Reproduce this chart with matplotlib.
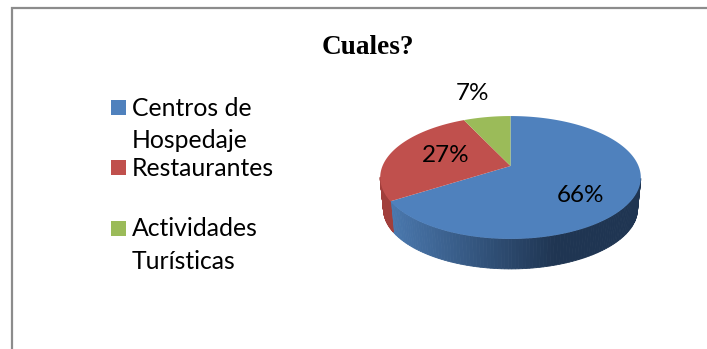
import numpy as np
import matplotlib
matplotlib.use("Agg")
import matplotlib.pyplot as plt
from matplotlib.patches import Rectangle

title = "Cuales?"
categories = ["Centros de\nHospedaje", "Restaurantes", "Actividades\nTurísticas"]
values = [66, 27, 7]
pct_labels = ["66%", "27%", "7%"]

colors = ["#4F81BD", "#C0504D", "#9BBB59"]
side_light = {0: "#4a78ae", 1: "#a8423f"}
side_dark = {0: "#1f3552", 1: "#8f3835"}

fig = plt.figure(figsize=(7.07, 3.49), dpi=100, facecolor="white")
ax = fig.add_axes([0, 0, 1, 1])
ax.set_xlim(0, 707)
ax.set_ylim(349, 0)
ax.axis("off")

# chart frame (only left and top edges are visible in the crop)
ax.plot([12, 12, 707], [349, 7.7, 7.7], color="#8c8c8c", lw=1.6, solid_joinstyle="miter")

# perspective pie: a unit circle mapped through a projective transform
CX, CY, W, H, K = 510.5, 166.0, 128.0, 59.3, 0.187


def project(theta, scale=1.0, drop=0.0):
    """theta: clockwise angle from 12 o'clock in radians."""
    x, y = np.sin(theta), np.cos(theta)
    den = 1 + K * y
    return CX + scale * W * x / den, CY - scale * H * y / den + drop


fractions = np.array(values, dtype=float) / np.sum(values)
edges = np.concatenate([[0], np.cumsum(fractions)]) * 2 * np.pi


def hex_rgb(c):
    return np.array(matplotlib.colors.to_rgb(c))


# side wall
for i in range(len(values) - 1):
    th = np.linspace(edges[i], edges[i + 1], 181)
    xt, yt = project(th)
    xb, yb = project(th, 0.975, 31.8)
    for j in range(len(th) - 1):
        if np.cos(th[j]) > -K:
            continue
        xm = 0.5 * (xt[j] + xt[j + 1])
        t = np.clip((xm - 390) / (555 - 390), 0, 1) if i == 0 else 0.3
        col = (1 - t) * hex_rgb(side_light[i]) + t * hex_rgb(side_dark[i])
        ax.fill([xt[j], xt[j + 1], xb[j + 1], xb[j]],
                [yt[j], yt[j + 1], yb[j + 1], yb[j]],
                facecolor=col, edgecolor=col, lw=0.6, zorder=2)

# top face
for i, c in enumerate(colors):
    th = np.linspace(edges[i], edges[i + 1], 200)
    xs, ys = project(th)
    ax.fill(np.r_[CX, xs], np.r_[CY, ys], facecolor=c, edgecolor="none", zorder=3)

# data labels
label_pos = [(581, 196), (445.5, 156), (472.5, 94)]
for (lx, ly), s in zip(label_pos, pct_labels):
    ax.text(lx, ly, s, ha="center", va="center", fontsize=17.5,
            family="Lato", color="black", zorder=5)

# title
ax.text(367.5, 48, title, ha="center", va="center", fontsize=19.6,
        family="Liberation Serif", weight="bold", color="black")

# legend
legend_y = [107.5, 167.5, 228.5]
for y, c, name in zip(legend_y, colors, categories):
    ax.add_patch(Rectangle((111, y - 7.5), 15, 15, facecolor=c, edgecolor="none"))
    ax.text(132, y - 11, name, ha="left", va="top", fontsize=17.8,
            family="Lato", color="black", linespacing=1.5)

fig.savefig("out.png", dpi=100, facecolor="white")
